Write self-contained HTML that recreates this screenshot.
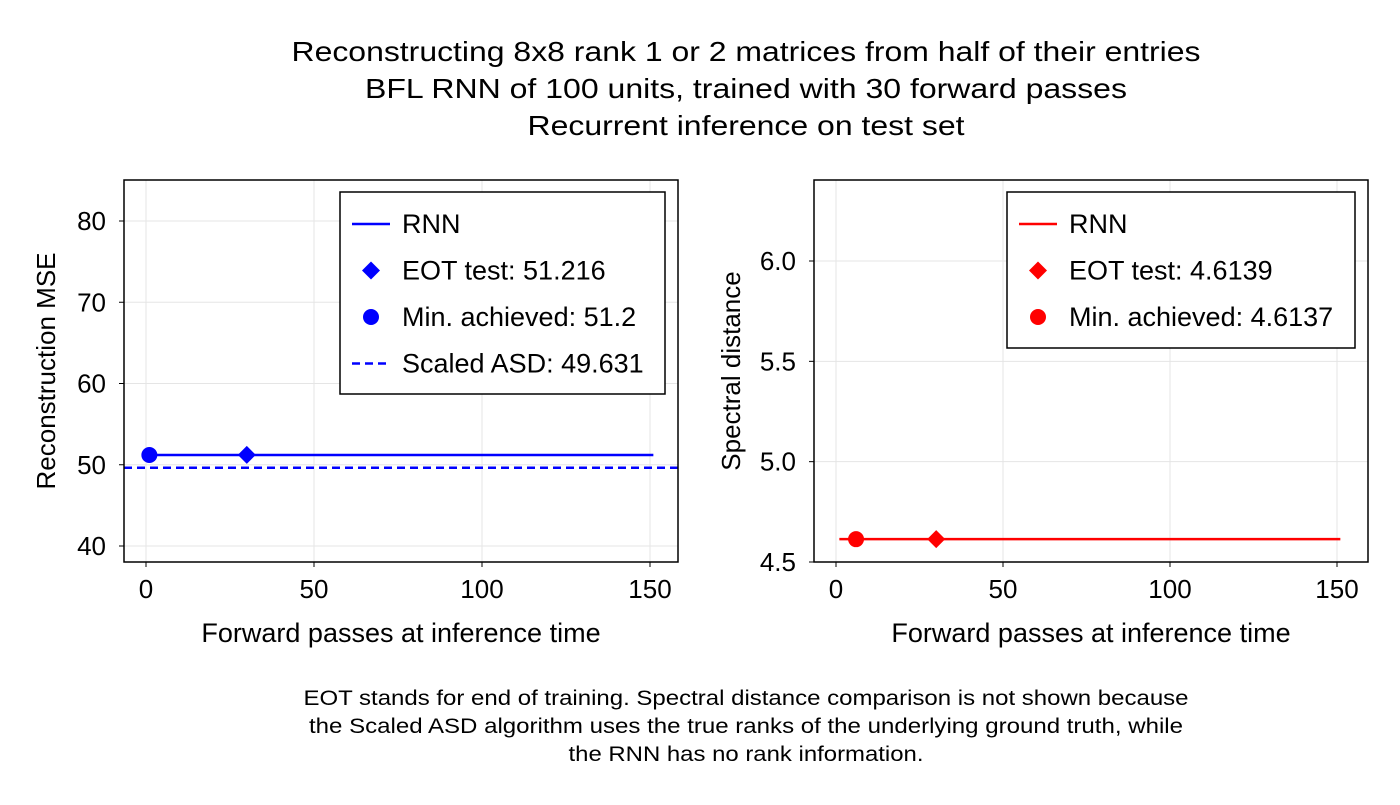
<!DOCTYPE html>
<html><head><meta charset="utf-8"><style>
body{margin:0;background:#fff;}
svg text{font-family:"Liberation Sans",sans-serif;fill:#000;}
</style></head><body>
<svg width="1400" height="800" xmlns="http://www.w3.org/2000/svg">
<g font-size="28" text-anchor="middle">
<text x="746" y="61" textLength="909" lengthAdjust="spacingAndGlyphs">Reconstructing 8x8 rank 1 or 2 matrices from half of their entries</text>
<text x="746" y="98" textLength="762" lengthAdjust="spacingAndGlyphs">BFL RNN of 100 units, trained with 30 forward passes</text>
<text x="746" y="135" textLength="437" lengthAdjust="spacingAndGlyphs">Recurrent inference on test set</text>
</g>
<g id="left"></g>
<g id="right"></g>
<g font-size="21" text-anchor="middle">
<text x="746" y="705" textLength="885" lengthAdjust="spacingAndGlyphs">EOT stands for end of training. Spectral distance comparison is not shown because</text>
<text x="746" y="733" textLength="874" lengthAdjust="spacingAndGlyphs">the Scaled ASD algorithm uses the true ranks of the underlying ground truth, while</text>
<text x="746" y="761" textLength="355" lengthAdjust="spacingAndGlyphs">the RNN has no rank information.</text>
</g>
</svg>
<script>
const xTicks=[0,50,100,150];
const mseTicks=[40,50,60,70,80];
const specTicks=[4.5,5.0,5.5,6.0];
const rnnRange=[1,151];
const mseRnn=51.2;
const mseEot=[30,51.216];
const mseMin=[1,51.2];
const mseAsd=49.631;
const specRnn=4.6137;
const specEot=[30,4.6139];
const specMin=[6,4.6137];
const NS="http://www.w3.org/2000/svg";
function mk(p,t,a){const e=document.createElementNS(NS,t);for(const k in a)e.setAttribute(k,a[k]);p.appendChild(e);return e;}
function panel(g,o){
 const L=o.L,R=o.L+554,T=180,B=562;
 const sx=v=>o.x0+(v-0)*(o.x150-o.x0)/150;
 const sy=v=>o.y0+(v-o.v0)*(o.y1-o.y0)/(o.v1-o.v0);
 xTicks.forEach(t=>{const l=mk(g,'line',{x1:sx(t),x2:sx(t),y1:T,y2:B,stroke:'#e5e5e5','stroke-width':1});
  const tx=mk(g,'text',{x:sx(t),y:B+36,'font-size':26,'text-anchor':'middle'});tx.textContent=t;
  mk(g,'line',{x1:sx(t),x2:sx(t),y1:B,y2:B+5,stroke:'#000'});});
 o.ticks.forEach(t=>{const l=mk(g,'line',{x1:L,x2:R,y1:sy(t),y2:sy(t),stroke:'#e5e5e5','stroke-width':1});
  const tx=mk(g,'text',{x:L-18,y:sy(t)+9,'font-size':26,'text-anchor':'end'});tx.textContent=o.fmt(t);
  mk(g,'line',{x1:L-5,x2:L,y1:sy(t),y2:sy(t),stroke:'#000'});});
 const c=o.color;
 if(o.asd!==undefined){const d=mk(g,'line',{x1:L,x2:R,y1:sy(o.asd),y2:sy(o.asd),stroke:c,'stroke-width':2.5,'stroke-dasharray':'8,5'});}
 const ln=mk(g,'line',{x1:sx(rnnRange[0]),x2:sx(rnnRange[1]),y1:sy(o.rnn),y2:sy(o.rnn),stroke:c,'stroke-width':2.5});
 const ci=mk(g,'circle',{cx:sx(o.min[0]),cy:sy(o.min[1]),r:8,fill:c});
 const ex=sx(o.eot[0]),ey=sy(o.eot[1]);
 const dm=mk(g,'polygon',{points:`${ex},${ey-9} ${ex+9},${ey} ${ex},${ey+9} ${ex-9},${ey}`,fill:c});
 mk(g,'rect',{x:L,y:T,width:554,height:382,fill:'none',stroke:'#000','stroke-width':1.5});
 const xl=mk(g,'text',{x:(L+R)/2,y:642,'font-size':27,'text-anchor':'middle'});xl.textContent='Forward passes at inference time';
 const yl=mk(g,'text',{transform:`translate(${o.ylx},${(T+B)/2}) rotate(-90)`,'font-size':26,'text-anchor':'middle'});yl.textContent=o.ylabel;
 const lg=mk(g,'g',{});
 mk(lg,'rect',{x:o.lx,y:192,width:o.lw,height:o.lh,fill:'#fff',stroke:'#000','stroke-width':1.5});
 o.entries.forEach((e,i)=>{const y=224+i*46.5;const mx=o.lx+31;
  if(e[0]=='line')mk(lg,'line',{x1:mx-19,x2:mx+19,y1:y,y2:y,stroke:c,'stroke-width':2.5});
  if(e[0]=='dash')mk(lg,'line',{x1:mx-19,x2:mx+19,y1:y,y2:y,stroke:c,'stroke-width':2.5,'stroke-dasharray':'8,5'});
  if(e[0]=='dia')mk(lg,'polygon',{points:`${mx},${y-9} ${mx+9},${y} ${mx},${y+9} ${mx-9},${y}`,fill:c});
  if(e[0]=='dot')mk(lg,'circle',{cx:mx,cy:y,r:8,fill:c});
  const t=mk(lg,'text',{x:o.lx+62,y:y+9,'font-size':27});t.textContent=e[1];});
}
panel(document.getElementById('left'),{L:124,x0:146,x150:650,v0:40,v1:80,y0:546,y1:221,ticks:mseTicks,fmt:t=>t,color:'#0000ff',rnn:mseRnn,eot:mseEot,min:mseMin,asd:mseAsd,ylabel:'Reconstruction MSE',ylx:55,lx:340,lw:325,lh:202,
 entries:[['line','RNN'],['dia','EOT test: 51.216'],['dot','Min. achieved: 51.2'],['dash','Scaled ASD: 49.631']]});
panel(document.getElementById('right'),{L:814,x0:836,x150:1337,v0:4.5,v1:6.0,y0:562,y1:261,ticks:specTicks,fmt:t=>t.toFixed(1),color:'#ff0000',rnn:specRnn,eot:specEot,min:specMin,ylabel:'Spectral distance',ylx:740,lx:1007,lw:348,lh:156,
 entries:[['line','RNN'],['dia','EOT test: 4.6139'],['dot','Min. achieved: 4.6137']]});
</script>
</body></html>
